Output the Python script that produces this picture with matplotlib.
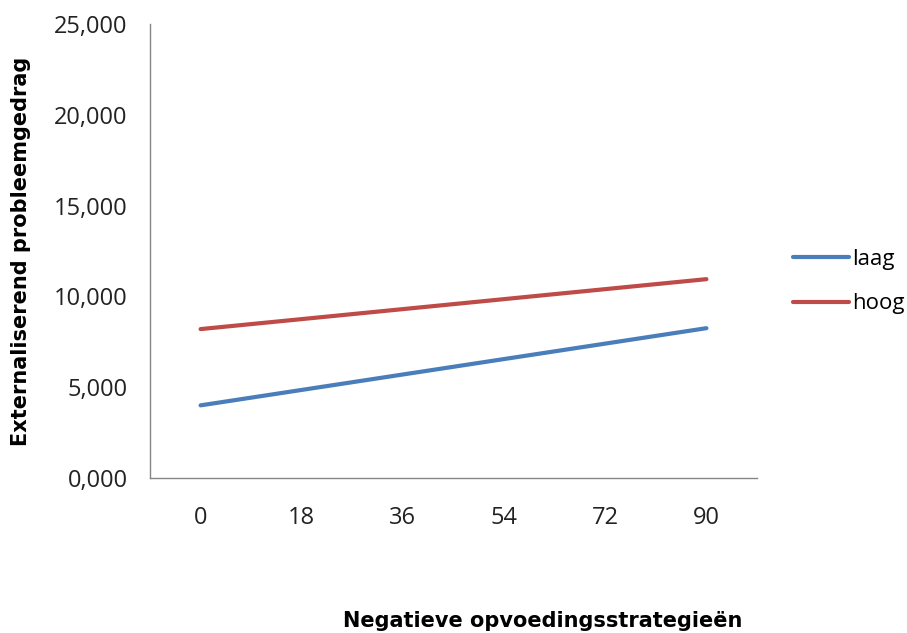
import matplotlib
matplotlib.use('Agg')
import matplotlib.pyplot as plt
from matplotlib.ticker import FuncFormatter

# data
categories = ['0', '18', '36', '54', '72', '90']
laag = [4.0, 4.85, 5.7, 6.55, 7.4, 8.25]
hoog = [8.2, 8.75, 9.3, 9.85, 10.4, 10.95]
y_ticks = [0, 5, 10, 15, 20, 25]

plt.rcParams['font.family'] = ['Open Sans', 'DejaVu Sans']

fig = plt.figure(figsize=(9.07, 6.33), dpi=100)
ax = fig.add_axes([150 / 907, 1 - 478 / 633, 607 / 907, 454 / 633])

x = list(range(len(categories)))
ax.plot(x, laag, color='#4A7EBB', linewidth=3, solid_capstyle='round', label='laag')
ax.plot(x, hoog, color='#BE4B48', linewidth=3, solid_capstyle='round', label='hoog')

ax.set_xlim(-0.5, len(categories) - 0.5)
ax.set_ylim(0, 25)
ax.set_xticks(x)
ax.set_xticklabels(categories)
ax.set_yticks(y_ticks)
ax.yaxis.set_major_formatter(FuncFormatter(lambda v, p: f'{v:.3f}'.replace('.', ',')))
ax.tick_params(length=0, labelsize=17, colors='#222222')
ax.tick_params(axis='x', pad=20)
ax.tick_params(axis='y', pad=16)

for side in ['top', 'right']:
    ax.spines[side].set_visible(False)
for side in ['left', 'bottom']:
    ax.spines[side].set_color('#868686')
    ax.spines[side].set_linewidth(1)

fig.text(21 / 907, 1 - 251 / 633, 'Externaliserend probleemgedrag', rotation=90,
         ha='center', va='center', fontsize=15, fontweight='bold',
         family=['DejaVu Sans'])
fig.text(543 / 907, 1 - 621 / 633, 'Negatieve opvoedingsstrategieën',
         ha='center', va='center', fontsize=15, fontweight='bold',
         family=['DejaVu Sans'])

fig.legend(loc='upper left', bbox_to_anchor=(773 / 907, 1 - 229 / 633), frameon=False,
           fontsize=16, handlelength=2.5, handletextpad=0.15, labelspacing=1.05)

fig.savefig('out.png', dpi=100)
